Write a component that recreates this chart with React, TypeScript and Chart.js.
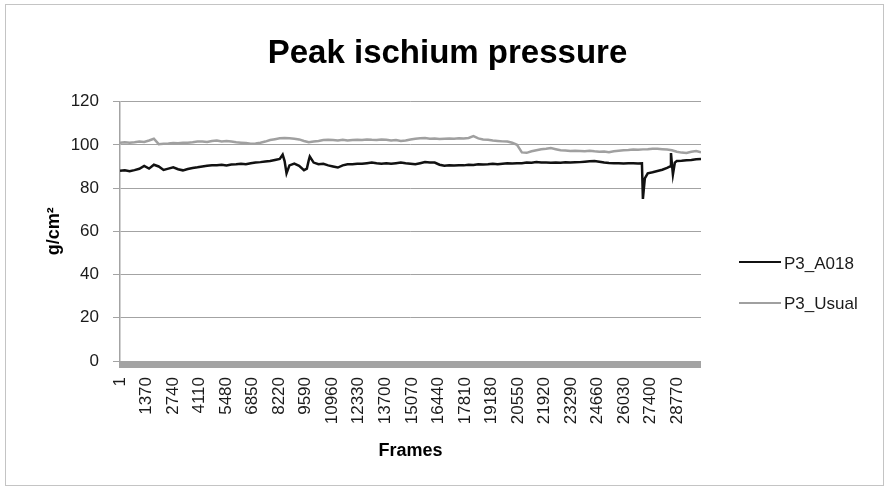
import React, { useEffect, useRef } from "react";
import { Chart, registerables } from "chart.js";

Chart.register(...registerables);

const TITLE = "Peak ischium pressure";
const X_TITLE = "Frames";
const Y_TITLE = "g/cm²";
const SERIES_NAMES = ["P3_A018", "P3_Usual"];

const X_TICK_LABELS = [
  1, 1370, 2740, 4110, 5480, 6850, 8220, 9590, 10960, 12330, 13700, 15070,
  16440, 17810, 19180, 20550, 21920, 23290, 24660, 26030, 27400, 28770,
];

const FRAMES = [
  1, 250, 500, 750, 1000, 1250, 1500, 1750, 2000, 2250,
  2500, 2750, 3000, 3250, 3500, 3750, 4000, 4250, 4500, 4750,
  5000, 5250, 5500, 5750, 6000, 6250, 6500, 6750, 7000, 7250,
  7500, 7750, 8000, 8250, 8500, 8750, 9000, 9250, 9500, 9750,
  10000, 10250, 10500, 10750, 11000, 11250, 11500, 11750, 12000, 12250,
  12500, 12750, 13000, 13250, 13500, 13750, 14000, 14250, 14500, 14750,
  15000, 15250, 15500, 15750, 16000, 16250, 16500, 16750, 17000, 17250,
  17500, 17750, 18000, 18250, 18500, 18750, 19000, 19250, 19500, 19750,
  20000, 20250, 20500, 20750, 21000, 21250, 21500, 21750, 22000, 22250,
  22500, 22750, 23000, 23250, 23500, 23750, 24000, 24250, 24500, 24750,
  25000, 25250, 25500, 25750, 26000, 26250, 26500, 26750, 27000, 27250,
  27500, 27750, 28000, 28250, 28500, 28750, 29000, 29250, 29500, 29750,
  30000,
];

const A018 = [
  88.0, 88.2, 87.8, 88.3, 88.9, 90.2, 89.0, 90.8, 90.0, 88.4,
  89.0, 89.6, 88.7, 88.2, 88.8, 89.3, 89.6, 90.0, 90.3, 90.5,
  90.6, 90.8, 90.5, 90.9, 91.0, 91.2, 91.0, 91.5, 91.8, 92.0,
  92.3, 92.5, 93.0, 93.5, 92.5, 90.5, 91.3, 90.3, 88.3, 93.0,
  91.8, 91.0, 91.2, 90.5, 90.0, 89.5, 90.5, 91.0, 91.0, 91.3,
  91.2, 91.5, 91.8, 91.5, 91.3, 91.5, 91.2, 91.5, 91.8, 91.5,
  91.3, 91.0, 91.5, 92.0, 91.8, 91.8, 90.8, 90.3, 90.5, 90.4,
  90.6, 90.5, 90.8, 90.7, 91.0, 90.9, 91.0, 91.2, 91.0, 91.3,
  91.5, 91.4, 91.5, 91.5, 91.8, 91.7, 92.0, 91.8, 91.8, 91.7,
  91.8, 91.7, 91.9, 91.8, 91.9, 92.0, 92.2, 92.4, 92.5, 92.2,
  91.8, 91.6, 91.5, 91.5, 91.4, 91.5, 91.5, 91.4, 75.0, 86.8,
  87.3, 87.9, 88.5, 89.3, 91.0, 92.5, 92.6, 92.9, 93.0, 93.3,
  93.5,
];

// extra samples of P3_A018 around its sharp spikes
const A018_SPIKE_FRAMES = [8400, 8600, 9650, 9800, 26950, 27100, 28400, 28450, 28550, 28650];
const A018_SPIKE_VALUES = [95.5, 86.8, 89.0, 94.6, 91.5, 84.5, 90.0, 96.2, 86.3, 91.8];

const USUAL = [
  101.0, 101.2, 101.0, 101.2, 101.5, 101.3, 102.0, 102.8, 100.3, 100.5,
  100.6, 100.8, 100.7, 101.0, 101.0, 101.2, 101.5, 101.5, 101.3, 101.8,
  102.0, 101.6, 101.8, 101.5, 101.2, 101.0, 100.8, 100.5, 100.6, 101.0,
  101.5, 102.2, 102.6, 103.0, 103.2, 103.0, 102.8, 102.5, 101.8, 101.2,
  101.5, 101.8, 102.2, 102.4, 102.2, 102.0, 102.3, 102.0, 102.2, 102.4,
  102.2, 102.5, 102.3, 102.2, 102.5, 102.3, 102.0, 102.2, 101.8, 102.0,
  102.5, 102.8, 103.0, 103.2, 102.8, 102.9, 102.7, 102.8, 102.9, 102.8,
  103.0, 102.9, 103.2, 104.0, 103.0, 102.5, 102.3, 102.0, 101.8, 101.6,
  101.5, 101.0, 100.0, 96.5, 96.3, 97.0, 97.5, 98.0, 98.2, 98.5,
  98.0, 97.5, 97.4, 97.1, 97.3, 97.2, 97.0, 97.3, 97.0, 96.8,
  96.9, 96.6, 97.0, 97.3, 97.5, 97.6, 97.8, 97.7, 97.9, 98.0,
  98.2, 98.2, 98.0, 97.8, 97.5, 96.8, 96.4, 96.2, 96.8, 97.1,
  96.5,
];

const FONT = "'Liberation Sans', Arial, sans-serif";
const TEXT = "#1a1a1a";
const GRID = "#a3a3a3";
const COLORS = ["#111111", "#a0a0a0"];

const bandPlugin = {
  id: "tickBand",
  afterDatasetsDraw(chart: any) {
    const { ctx, chartArea } = chart;
    ctx.save();
    ctx.fillStyle = GRID;
    ctx.fillRect(chartArea.left - 1, chartArea.bottom, chartArea.right - chartArea.left + 1, 7);
    ctx.restore();
  },
};

export default function App() {
  const ref = useRef<HTMLCanvasElement | null>(null);

  useEffect(() => {
    document.body.style.margin = "0";
    const a018Pts = FRAMES.map((f, i) => ({ x: f, y: A018[i] }))
      .concat(A018_SPIKE_FRAMES.map((f, i) => ({ x: f, y: A018_SPIKE_VALUES[i] })))
      .sort((a, b) => a.x - b.x);
    const usualPts = FRAMES.map((f, i) => ({ x: f, y: USUAL[i] }));

    const chart = new Chart(ref.current as HTMLCanvasElement, {
      type: "line",
      data: {
        datasets: [
          {
            label: SERIES_NAMES[0],
            data: a018Pts,
            borderColor: COLORS[0],
            backgroundColor: COLORS[0],
            borderWidth: 2.5,
            pointRadius: 0,
            tension: 0,
          },
          {
            label: SERIES_NAMES[1],
            data: usualPts,
            borderColor: COLORS[1],
            backgroundColor: COLORS[1],
            borderWidth: 2.5,
            pointRadius: 0,
            tension: 0,
          },
        ],
      },
      plugins: [bandPlugin],
      options: {
        responsive: false,
        animation: false,
        devicePixelRatio: 1,
        layout: { padding: { left: 7, right: 0, top: 0, bottom: 0 } },
        plugins: {
          legend: { display: false },
          tooltip: { enabled: false },
          title: {
            display: true,
            text: TITLE,
            color: "#000",
            font: { family: FONT, size: 33, weight: "bold" },
            padding: { top: 34, bottom: 28 },
          },
        },
        scales: {
          x: {
            type: "linear",
            min: 1,
            max: 30000,
            afterBuildTicks: (scale: any) => {
              scale.ticks = X_TICK_LABELS.map((v) => ({ value: v }));
            },
            afterFit: (scale: any) => {
              scale.height = 129;
            },
            ticks: {
              autoSkip: false,
              minRotation: 90,
              maxRotation: 90,
              padding: 16,
              color: TEXT,
              font: { family: FONT, size: 17 },
              callback: (v: any) => String(v),
            },
            grid: { display: false, drawTicks: false },
            border: { display: false },
            title: {
              display: true,
              text: X_TITLE,
              color: "#000",
              font: { family: FONT, size: 18, weight: "bold" },
              padding: { top: 0, bottom: 28 },
            },
          },
          y: {
            min: 0,
            max: 120,
            afterFit: (scale: any) => {
              scale.width = 113;
            },
            ticks: {
              stepSize: 20,
              padding: 14,
              color: TEXT,
              font: { family: FONT, size: 17 },
            },
            grid: { color: GRID, lineWidth: 1, tickLength: 7, drawTicks: true },
            border: { display: true, color: GRID, width: 1.5 },
            title: {
              display: true,
              text: Y_TITLE,
              color: "#000",
              font: { family: FONT, size: 18, weight: "bold" },
              padding: { top: 36, bottom: 0 },
            },
          },
          legendSpace: {
            type: "linear",
            position: "right",
            display: true,
            afterFit: (scale: any) => {
              scale.width = 187;
            },
            ticks: { display: false },
            grid: { display: false, drawTicks: false },
            border: { display: false },
          },
        },
      },
    } as any);
    return () => chart.destroy();
  }, []);

  const legendText: React.CSSProperties = {
    position: "absolute",
    left: 784,
    fontFamily: FONT,
    fontSize: 17,
    lineHeight: "20px",
    color: TEXT,
    whiteSpace: "nowrap",
  };

  return (
    <div style={{ position: "relative", width: 888, height: 490, background: "#fff" }}>
      <canvas ref={ref} width={888} height={490} style={{ display: "block", width: 888, height: 490 }} />
      <div
        style={{
          position: "absolute",
          left: 5,
          top: 4,
          width: 877,
          height: 480,
          border: "1px solid #c4c4c4",
          pointerEvents: "none",
        }}
      />
      <div style={{ position: "absolute", left: 739, top: 261, width: 42, height: 2, background: COLORS[0] }} />
      <div style={{ ...legendText, top: 254 }}>{SERIES_NAMES[0]}</div>
      <div style={{ position: "absolute", left: 739, top: 302, width: 42, height: 2, background: COLORS[1] }} />
      <div style={{ ...legendText, top: 294 }}>{SERIES_NAMES[1]}</div>
    </div>
  );
}
